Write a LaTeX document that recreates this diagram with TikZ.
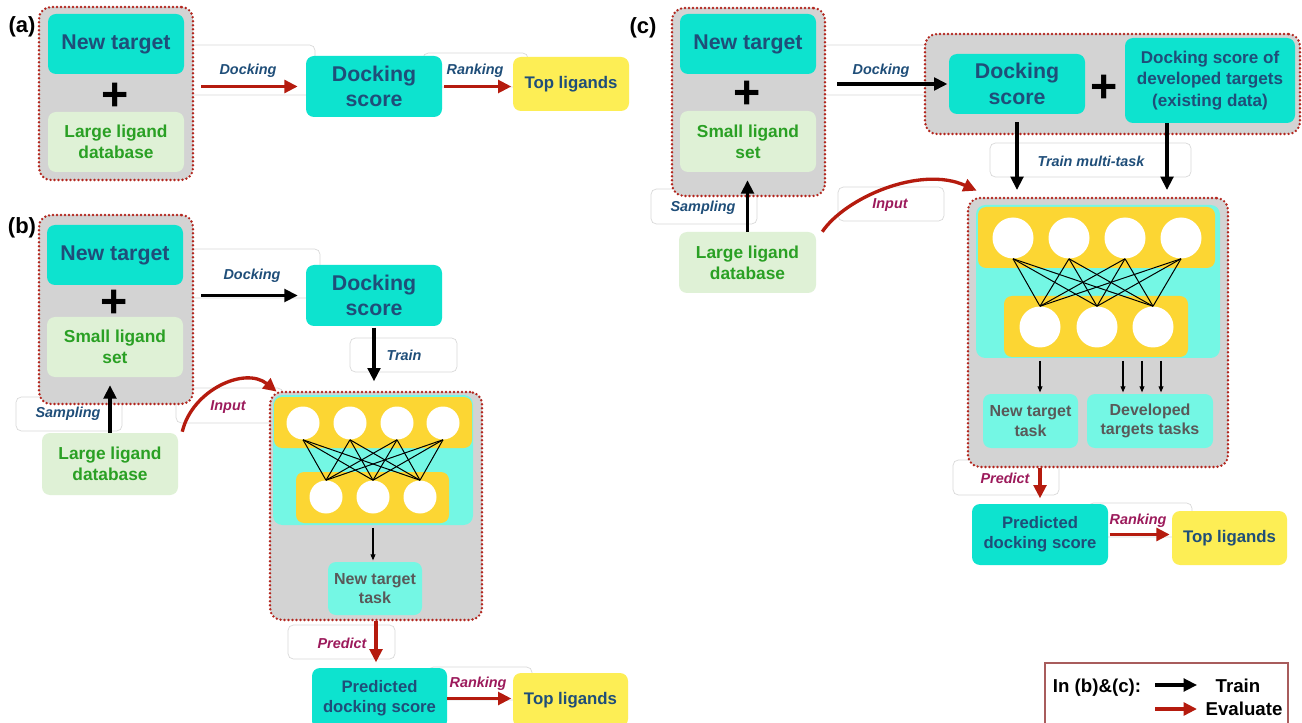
\documentclass[tikz,border=0pt]{standalone}
\usepackage{fontspec}
\setmainfont{Liberation Sans}
\usetikzlibrary{arrows.meta,fit,calc}
\definecolor{turq}{HTML}{0DE3CF}
\definecolor{lcyan}{HTML}{74F7E4}
\definecolor{nnyel}{HTML}{FCD633}
\definecolor{topyel}{HTML}{FDEE55}
\definecolor{lgreen}{HTML}{DFF1D6}
\definecolor{gtext}{HTML}{2AA024}
\definecolor{btext}{HTML}{1F4E79}
\definecolor{bggray}{HTML}{D3D3D3}
\definecolor{dotred}{HTML}{B3261E}
\definecolor{arrred}{HTML}{B51B0E}
\definecolor{ptext}{HTML}{9C1A5B}
\definecolor{ttext}{HTML}{595959}
\definecolor{faint}{HTML}{D8D8D8}
\definecolor{legred}{HTML}{A85C5C}
\tikzset{
 grp/.style={draw=dotred, fill=bggray, line width=2pt, dash pattern=on 0pt off 3pt, line cap=round, rounded corners=9pt, inner sep=0pt},
 sz/.style 2 args={minimum width=#1*0.75pt, minimum height=#2*0.75pt},
 bx/.style={rounded corners=6pt, inner sep=0pt, align=center},
 tq/.style={bx, fill=turq, text=btext, font=\bfseries\fontsize{16}{19}\selectfont},
 tqd/.style={bx, fill=turq, text=btext, font=\bfseries\fontsize{12.8}{16}\selectfont},
 tqp/.style={bx, fill=turq, text=btext, font=\bfseries\fontsize{12.5}{15}\selectfont},
 lg/.style={bx, fill=lgreen, text=gtext, font=\bfseries\fontsize{13}{16}\selectfont},
 topl/.style={bx, fill=topyel, text=btext, font=\bfseries\fontsize{12.6}{15}\selectfont},
 task/.style={bx, fill=lcyan, text=ttext, font=\bfseries\fontsize{12}{14.7}\selectfont},
 cyanbg/.style={fill=lcyan, rounded corners=7pt, inner sep=0pt},
 yelbar/.style={fill=nnyel, rounded corners=6pt, inner sep=0pt},
 faintbox/.style={draw=faint, fill=white, line width=0.5pt, rounded corners=4pt, inner sep=0pt},
 lbl/.style={font=\bfseries\itshape\fontsize{10.8}{13}\selectfont, inner sep=0pt},
 plus/.style={font=\bfseries\fontsize{35}{35}\selectfont, inner sep=0pt},
 panel/.style={font=\bfseries\fontsize{16.5}{18}\selectfont, inner sep=0pt},
 lgt/.style={font=\bfseries\fontsize{14}{16}\selectfont, inner sep=0pt, anchor=base},
 arrk/.style={draw=black, line width=2.3pt, -{Triangle[length=10pt,width=9.5pt]}},
 arrr/.style={draw=arrred, line width=2.5pt, -{Triangle[length=10pt,width=9.5pt]}},
 nnarrow/.style={draw=black, line width=0.8pt, -{Triangle[length=4.5pt,width=3.6pt]}},
 neuron/.style={circle, fill=white, inner sep=0pt},
 nnline/.style={draw=black, line width=0.75pt},
}
\begin{document}
\begin{tikzpicture}[x=0.75pt,y=-0.75pt]
\useasboundingbox (0,0) rectangle (1302,723);
\clip (0,0) rectangle (1302,723);
\fill[white] (0,0) rectangle (1302,723);

% ---------- faint label boxes ----------
\node[faintbox, fit={(185,45) (315,95)}] (fa1) {};
\node[faintbox, fit={(423,53) (528,87)}] (fa2) {};
\node[faintbox, fit={(185,249) (320,298)}] (fb1) {};
\node[faintbox, fit={(350,338) (457,372)}] (fb2) {};
\node[faintbox, fit={(16,397) (122,431)}] (fb3) {};
\node[faintbox, fit={(176,388) (283,423)}] (fb4) {};
\node[faintbox, fit={(288,625) (395,659)}] (fb5) {};
\node[faintbox, fit={(428,667) (532,700)}] (fb6) {};
\node[faintbox, fit={(815,45) (935,95)}] (fc1) {};
\node[faintbox, fit={(651,189) (757,224)}] (fc2) {};
\node[faintbox, fit={(838,187) (944,221)}] (fc3) {};
\node[faintbox, fit={(990,143) (1191,177)}] (fc4) {};
\node[faintbox, fit={(953,460) (1059,495)}] (fc5) {};
\node[faintbox, fit={(1088,503) (1192,537)}] (fc6) {};

% ---------- panel (a) ----------
\node[panel] (pa) at (22,27) {(a)};
\node[grp, fit={(39,7) (193,180)}] (grpA) {};
\node[tq, sz={136}{60}] (ntA) at (116,44) {New target};
\node[plus] (plA) at (115,97) {+};
\node[lg, sz={136}{60}] (ldA) at (116,142) {Large ligand\\database};
\node[tq, sz={136}{61}] (dsA) at (374,86.5) {Docking\\score};
\node[topl, sz={116}{54}] (tlA) at (571,84) {Top ligands};
\node[lbl, text=btext] (dkA) at (248,71) {Docking};
\node[lbl, text=btext] (rkA) at (475,71) {Ranking};
\draw[arrr, shorten <=5pt, shorten >=6pt] (grpA.east |- dsA.west) -- (dsA.west);
\draw[arrr, shorten <=1.5pt, shorten >=1pt] (dsA.east) -- (dsA.east -| tlA.west);

% ---------- panel (b) ----------
\node[panel] (pb) at (22,228) {(b)};
\node[grp, fit={(39,215) (193,404)}] (grpB) {};
\node[tq, sz={136}{60}] (ntB) at (115,255) {New target};
\node[plus] (plB) at (114,304) {+};
\node[lg, sz={136}{60}] (slB) at (115,347) {Small ligand\\set};
\node[lg, sz={136}{62}] (ldB) at (110,464) {Large ligand\\database};
\node[tq, sz={136}{61}] (dsB) at (374,295.5) {Docking\\score};
\node[grp, fit={(270,392) (482,620)}] (nnB) {};
\node[cyanbg, fit={(273,395) (473,525)}] (cyB) {};
\node[yelbar, fit={(274,397) (472,448)}] (ytB) {};
\node[yelbar, fit={(296,472) (449,523)}] (ybB) {};
\foreach \i/\xx in {1/303,2/350,3/397,4/443}
  \node[neuron, minimum size=24.75pt] (btB\i) at (\xx,423) {};
\foreach \i/\xx in {1/326,2/373,3/420}
  \node[neuron, minimum size=24.75pt] (bbB\i) at (\xx,497) {};
\foreach \i in {1,...,4}
  \foreach \j in {1,2,3}
    \draw[nnline] (btB\i.south) -- (bbB\j.north);
\node[task, sz={94}{53}] (taskB) at (375,588.5) {New target\\task};
\node[tqp, sz={135}{61}] (pdB) at (379.5,698.5) {Predicted\\docking score};
\node[topl, sz={115}{54}] (tlB) at (570.5,700) {Top ligands};
\node[lbl, text=btext] (dkB) at (252,276) {Docking};
\node[lbl, text=btext] (trB) at (404,355) {Train};
\node[lbl, text=btext] (smB) at (68,414) {Sampling};
\node[lbl, text=ptext] (inB) at (228,407) {Input};
\node[lbl, text=ptext] (prB) at (342,643) {Predict};
\node[lbl, text=ptext] (rkB) at (478,684) {Ranking};
\draw[arrk, shorten <=5pt, shorten >=6pt] (grpB.east |- dsB.west) -- (dsB.west);
\draw[arrk, shorten <=1pt, shorten >=7pt] (dsB.south) -- (dsB.south |- nnB.north);
\draw[arrk, shorten >=6pt] (ldB.north) -- (ldB.north |- slB.south);
\draw[arrr] ($(ldB.north east)+(4,-1)$) .. controls (192,390) and (245,366) .. ($(nnB.north west)+(8,1)$);
\draw[nnarrow, shorten <=2pt, shorten >=1pt] (cyB.south) -- (cyB.south |- taskB.north);
\draw[arrr, shorten >=4pt] (nnB.south) -- (nnB.south |- pdB.north);
\draw[arrr, shorten >=1pt] (pdB.east) -- (pdB.east -| tlB.west);

% ---------- panel (c) ----------
\node[panel] (pc) at (643,28) {(c)};
\node[grp, fit={(672,8) (825,196)}] (grpC) {};
\node[tq, sz={136}{60}] (ntC) at (748,44) {New target};
\node[plus] (plC) at (747,95) {+};
\node[lg, sz={136}{61}] (slC) at (748,141.5) {Small ligand\\set};
\node[lg, sz={137}{61}] (ldC) at (747.5,262.5) {Large ligand\\database};
\node[grp, fit={(925,34) (1300,134)}] (grpC2) {};
\node[tq, sz={136}{60}] (dsC) at (1017,84) {Docking\\score};
\node[plus] (plC2) at (1104,89) {+};
\node[tqd, sz={170}{85}] (devC) at (1210,80.5) {Docking score of\\developed targets\\(existing data)};
\node[grp, fit={(968,198) (1228,467)}] (nnC) {};
\node[cyanbg, fit={(976,205) (1220,358)}] (cyC) {};
\node[yelbar, fit={(978,207) (1215,268)}] (ytC) {};
\node[yelbar, fit={(1004,296) (1188,357)}] (ybC) {};
\foreach \i/\xx in {1/1013,2/1069,3/1125,4/1181}
  \node[neuron, minimum size=30.75pt] (btC\i) at (\xx,238) {};
\foreach \i/\xx in {1/1040,2/1097,3/1153}
  \node[neuron, minimum size=30.75pt] (bbC\i) at (\xx,327) {};
\foreach \i in {1,...,4}
  \foreach \j in {1,2,3}
    \draw[nnline] (btC\i.south) -- (bbC\j.north);
\node[task, sz={95}{54}] (taskC1) at (1030.5,421) {New target\\task};
\node[task, sz={126}{54}] (taskC2) at (1150,421) {Developed\\targets tasks};
\node[tqp, sz={136}{61}] (pdC) at (1040,534.5) {Predicted\\docking score};
\node[topl, sz={115}{54}] (tlC) at (1229.5,538) {Top ligands};
\node[lbl, text=btext] (dkC) at (881,71) {Docking};
\node[lbl, text=btext] (smC) at (703,208) {Sampling};
\node[lbl, text=ptext] (inC) at (890,205) {Input};
\node[lbl, text=btext] (trC) at (1091,161) {Train multi-task};
\node[lbl, text=ptext] (prC) at (1005,478) {Predict};
\node[lbl, text=ptext] (rkC) at (1138,521) {Ranking};
\coordinate (dvC) at (1167,123);
\draw[arrk, shorten <=8pt, shorten >=1pt] (grpC.east |- dsC.west) -- (dsC.west);
\draw[arrk, shorten <=6pt, shorten >=5pt] (dsC.south) -- (dsC.south |- nnC.north);
\draw[arrk, shorten <=0pt, shorten >=5pt] (dvC) -- (dvC |- nnC.north);
\draw[arrk, shorten >=6pt] (ldC.north) -- (ldC.north |- slC.south);
\draw[arrr] ($(ldC.north east)+(6,0)$) .. controls (845,198) and (920,165) .. ($(nnC.north west)+(10,-6)$);
\draw[nnarrow, shorten <=2pt, shorten >=1pt] (bbC1 |- cyC.south) -- (bbC1 |- taskC1.north);
\foreach \dx in {-30,-11,8}
  \draw[nnarrow, shorten <=2pt, shorten >=1pt] ($(bbC3 |- cyC.south)+(\dx,0)$) -- ($(bbC3 |- taskC2.north)+(\dx,0)$);
\draw[arrr, shorten >=4pt] (pdC.north |- nnC.south) -- (pdC.north);
\draw[arrr, shorten <=1pt, shorten >=1.5pt] (pdC.east) -- (pdC.east -| tlC.west);

% ---------- legend ----------
\node[draw=legred, line width=0.8pt, fit={(1045,663) (1288,728)}, inner sep=0pt] (leg) {};
\node[lgt] (legin) at (1097,692) {In (b)\&(c):};
\coordinate (la1) at (1155,685);
\coordinate (la2) at (1197,685);
\coordinate (lb1) at (1155,709);
\coordinate (lb2) at (1197,709);
\draw[arrk] (la1) -- (la2);
\draw[arrr] (lb1) -- (lb2);
\node[lgt] (legtr) at (1238,692) {Train};
\node[lgt] (legev) at (1244,715) {Evaluate};
\end{tikzpicture}
\end{document}
